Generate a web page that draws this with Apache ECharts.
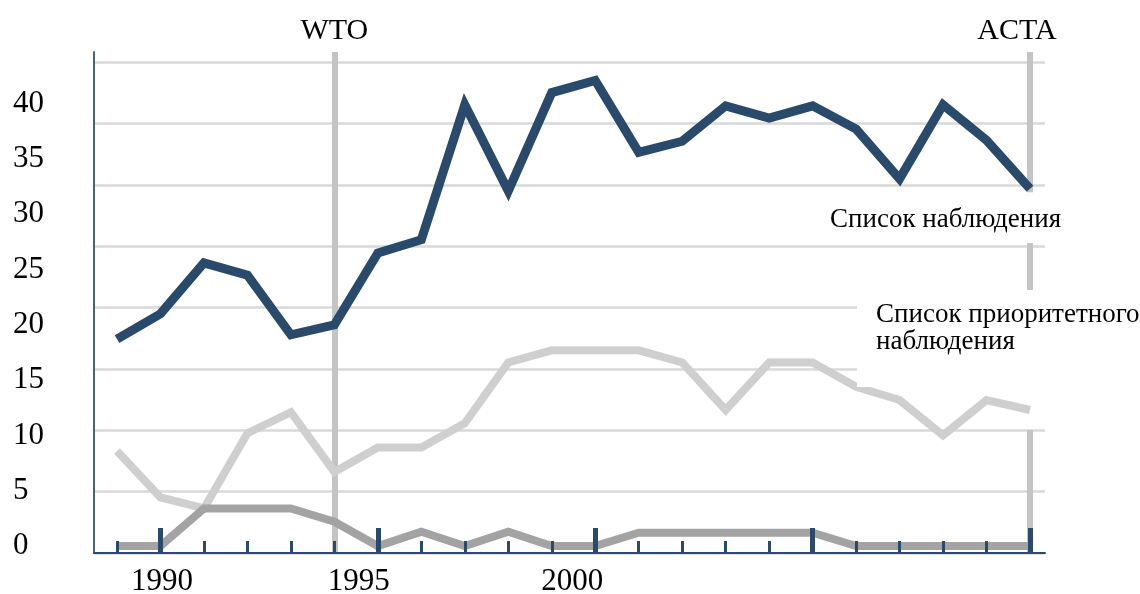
<!DOCTYPE html>
<html>
<head>
<meta charset="utf-8">
<title>Special 301</title>
<script src="https://cdn.jsdelivr.net/npm/echarts@6/dist/echarts.min.js"></script>
<style>
  html, body { margin: 0; padding: 0; background: #fff; }
  #chart { width: 1140px; height: 594px; }
</style>
</head>
<body>
<div id="chart"></div>
<script>
// data
const years = [1989, 1990, 1991, 1992, 1993, 1994, 1995, 1996, 1997, 1998, 1999,
  2000, 2001, 2002, 2003, 2004, 2005, 2006, 2007, 2008, 2009, 2010];
const watchList = [18.7, 21.0, 25.6, 24.5, 19.1, 20.0, 26.5, 27.7, 39.9, 32.1, 41.0,
  42.1, 35.6, 36.6, 39.8, 38.7, 39.8, 37.7, 33.2, 39.9, 36.7, 32.3];
const priorityWatch = [8.6, 4.4, 3.4, 10.2, 12.1, 6.7, 8.9, 8.9, 11.1, 16.6, 17.7,
  17.7, 17.7, 16.6, 12.3, 16.6, 16.6, 14.4, 13.2, 10.0, 13.2, 12.3];
const priorityForeign = [0, 0, 3.4, 3.4, 3.4, 2.2, 0, 1.3, 0, 1.3, 0,
  0, 1.2, 1.2, 1.2, 1.2, 1.2, 0, 0, 0, 0, 0];
const yTicks = [0, 5, 10, 15, 20, 25, 30, 35, 40];
const xLabels = [1990, 1995, 2000];
const bigTicks = [1990, 1995, 2000, 2005, 2010];
const events = [{ name: 'WTO', year: 1994 }, { name: 'ACTA', year: 2010 }];

const navy = '#2a4a6b';
const serif = '"Liberation Serif", "Times New Roman", serif';
const xMin = 1988.471, xMax = 2010.345;
const yMin = -0.63, yMax = 44.67;

// small horizontal nudges for the year labels
const labelShift = { 1990: [0, 0, 0, 3], 1995: [0, 38, 0, 0], 2000: [0, 46, 0, 0] };
const rich = {};
xLabels.forEach(y => { rich['y' + y] = { padding: labelShift[y], fontSize: 31, fontFamily: serif, color: '#000' }; });

const toPairs = arr => years.map((y, i) => [y, arr[i]]);

const refStyle = { color: '#c4c4c4', width: 6, type: 'solid' };
const wto = events[0], acta = events[1];

const chart = echarts.init(document.getElementById('chart'));
chart.setOption({
  animation: false,
  backgroundColor: '#fff',
  grid: [
    { left: 94, right: 95, top: 52, bottom: 41, outerBoundsMode: 'none' },
    { left: 94, right: 95, top: 62, bottom: 41, outerBoundsMode: 'none' } // gridlines + big ticks
  ],
  xAxis: [
    {
      type: 'value', gridIndex: 0, min: xMin, max: xMax, z: 10,
      axisLine: { show: true, onZero: false, lineStyle: { color: navy, width: 2 } },
      axisTick: { show: true, inside: true, length: 12, customValues: years, lineStyle: { color: navy, width: 3 } },
      axisLabel: {
        customValues: xLabels, margin: 13, fontSize: 31, fontFamily: serif, color: '#000',
        formatter: v => '{y' + v + '|' + v + '}', rich: rich
      },
      splitLine: { show: false }
    },
    {
      type: 'value', gridIndex: 1, min: xMin, max: xMax, z: 10,
      axisLine: { show: false, onZero: false },
      axisTick: { show: true, inside: true, length: 25, customValues: bigTicks, lineStyle: { color: navy, width: 5 } },
      axisLabel: { show: false },
      splitLine: { show: false }
    }
  ],
  yAxis: [
    {
      type: 'value', gridIndex: 0, min: yMin, max: yMax,
      axisLine: { show: true, onZero: false, lineStyle: { color: '#4a6584', width: 2 } },
      axisTick: { show: false },
      axisLabel: { customValues: yTicks, align: 'left', margin: 81, fontSize: 31, fontFamily: serif, color: '#000' },
      splitLine: { show: false }
    },
    {
      type: 'value', gridIndex: 1, min: 0, max: 8, interval: 1,
      axisLine: { show: false }, axisTick: { show: false }, axisLabel: { show: false },
      splitLine: { show: true, lineStyle: { color: '#d9d9d9', width: 2.5 } }
    }
  ],
  series: [
    {
      name: 'Список приоритетного наблюдения', type: 'line', data: toPairs(priorityWatch),
      showSymbol: false, lineStyle: { color: '#cfcfcf', width: 8, join: 'miter' },
      markLine: {
        silent: true, z: 1, symbol: ['none', 'none'], lineStyle: refStyle,
        label: { show: false },
        data: [
          [{ coord: [wto.year, yMin] }, { coord: [wto.year, yMax],
            label: { show: true, position: 'end', distance: 6, formatter: wto.name, fontSize: 30, fontFamily: serif, color: '#000' } }],
          [{ coord: [acta.year, 32.0] }, { coord: [acta.year, yMax],
            label: { show: true, position: 'end', distance: 6, padding: [0, 26, 0, 0], formatter: acta.name, fontSize: 30, fontFamily: serif, color: '#000' } }],
          [{ coord: [acta.year, 23.15] }, { coord: [acta.year, 27.4] }],
          [{ coord: [acta.year, yMin] }, { coord: [acta.year, 10.49] }]
        ]
      }
    },
    {
      name: 'Priority Foreign Country', type: 'line', data: toPairs(priorityForeign),
      showSymbol: false, lineStyle: { color: '#a3a3a3', width: 8, join: 'miter' }
    },
    {
      name: 'Список наблюдения', type: 'line', data: toPairs(watchList),
      showSymbol: false, lineStyle: { color: navy, width: 9, join: 'miter' }
    }
  ],
  graphic: [
    { type: 'text', x: 830, y: 206, z: 100,
      style: { text: 'Список наблюдения', font: '27px ' + serif, fill: '#000', align: 'left', verticalAlign: 'top' } },
    { type: 'rect', z: 99, shape: { x: 857, y: 290, width: 283, height: 97 }, style: { fill: '#fff' } },
    { type: 'text', x: 876, y: 301, z: 100,
      style: { text: 'Список приоритетного\nнаблюдения', font: '27px ' + serif, lineHeight: 27, fill: '#000', align: 'left', verticalAlign: 'top' } }
  ]
});
</script>
</body>
</html>
